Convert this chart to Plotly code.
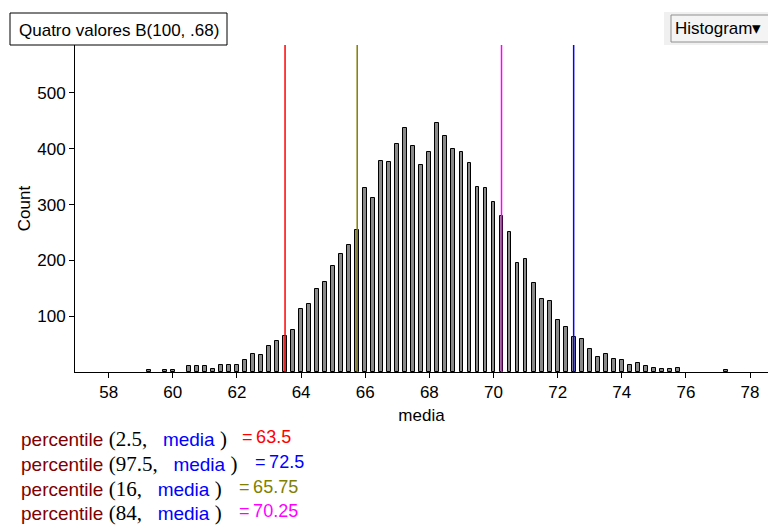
import plotly.graph_objects as go

# ---- data ----
media_vals = [59.25, 59.75, 60.0, 60.5, 60.75, 61.0, 61.25, 61.5, 61.75, 62.0,
              62.25, 62.5, 62.75, 63.0, 63.25, 63.5, 63.75, 64.0, 64.25, 64.5,
              64.75, 65.0, 65.25, 65.5, 65.75, 66.0, 66.25, 66.5, 66.75, 67.0,
              67.25, 67.5, 67.75, 68.0, 68.25, 68.5, 68.75, 69.0, 69.25, 69.5,
              69.75, 70.0, 70.25, 70.5, 70.75, 71.0, 71.25, 71.5, 71.75, 72.0,
              72.25, 72.5, 72.75, 73.0, 73.25, 73.5, 73.75, 74.0, 74.25, 74.5,
              74.75, 75.0, 75.25, 75.5, 75.75, 77.25]
counts = [4, 4, 4, 10, 10, 10, 6, 12, 12, 12,
          21, 33, 30, 47, 56, 65, 76, 113, 121, 148,
          162, 190, 211, 228, 254, 329, 311, 379, 377, 409,
          437, 405, 371, 394, 446, 423, 400, 394, 374, 331,
          329, 305, 280, 251, 196, 202, 159, 130, 128, 93,
          81, 62, 59, 41, 27, 33, 24, 21, 13, 16,
          10, 7, 5, 5, 7, 4]

pct_levels = ["2.5", "97.5", "16", "84"]
pct_values = [63.5, 72.5, 65.75, 70.25]
pct_colors = ["#ff0000", "#0000ff", "#808000", "#ff00ff"]

x_ticks = [58, 60, 62, 64, 66, 68, 70, 72, 74, 76, 78]
y_ticks = [100, 200, 300, 400, 500]

# ---- layout geometry (pixels) ----
W, H = 768, 527
L, R, T, B = 75, 0, 45, 155
PW, PH = W - L - R, H - T - B


def px(x):
    return (x - L) / PW


def py(y):
    return (H - B - y) / PH


SANS = "Liberation Sans, Arial, sans-serif"
SERIF = "Liberation Serif, Times New Roman, serif"
NB = "\u00a0"

fig = go.Figure()
fig.add_trace(go.Bar(
    x=media_vals, y=counts, width=0.12,
    marker=dict(color="#8a8a8a", line=dict(color="black", width=1)),
    showlegend=False, hoverinfo="x+y",
))

for v, c in zip(pct_values, pct_colors):
    fig.add_shape(type="line", xref="x", yref="paper", x0=v, x1=v, y0=0, y1=1,
                  line=dict(color=c, width=1.5))

# title box
fig.add_shape(type="rect", xref="paper", yref="paper",
              x0=px(10), x1=px(227), y0=py(45), y1=py(13),
              line=dict(color="black", width=1), fillcolor="white")
fig.add_annotation(xref="paper", yref="paper", x=px(118.5), y=py(30),
                   xanchor="center", yanchor="middle",
                   text="Quatro valores B(100, .68)", showarrow=False,
                   font=dict(family=SANS, size=17, color="black"))

# Histogram dropdown-like box
fig.add_shape(type="rect", xref="paper", yref="paper",
              x0=px(664), x1=px(768), y0=py(45), y1=py(12),
              line=dict(width=0), fillcolor="#f0f0f0")
fig.add_shape(type="rect", xref="paper", yref="paper",
              x0=px(671), x1=px(770), y0=py(42), y1=py(15),
              line=dict(color="#909090", width=1), fillcolor="#f4f4f4")
fig.add_annotation(xref="paper", yref="paper", x=px(673), y=py(29),
                   xanchor="left", yanchor="middle",
                   text="Histogram\u25be", showarrow=False,
                   font=dict(family=SANS, size=17, color="black"))

# percentile lines
line_y = [439, 464, 489, 513]
val_x = [240, 253, 237, 237]
for lvl, v, c, ly, vx in zip(pct_levels, pct_values, pct_colors, line_y, val_x):
    txt = ('<span style="color:#800000">percentile</span>'
           '<span style="font-family:' + SERIF + ';font-size:21px;color:#000"> (' + lvl + ',' + NB + NB + NB + '</span>'
           '<span style="color:#0000ff">media</span>'
           '<span style="font-family:' + SERIF + ';font-size:21px;color:#000">' + NB + ')</span>')
    fig.add_annotation(xref="paper", yref="paper", x=px(19), y=py(ly), xanchor="left",
                       yanchor="middle", text=txt, showarrow=False,
                       font=dict(family=SANS, size=19, color="black"))
    vs = ("%g" % v)
    fig.add_annotation(xref="paper", yref="paper", x=px(vx), y=py(ly - 2), xanchor="left",
                       yanchor="middle", text="=\u2009" + vs, showarrow=False,
                       font=dict(family=SANS, size=18, color=c))

fig.update_layout(
    width=W, height=H,
    margin=dict(l=L, r=R, t=T, b=B, pad=0),
    paper_bgcolor="white", plot_bgcolor="white",
    bargap=0,
    font=dict(family=SANS, size=17, color="black"),
    xaxis=dict(range=[56.95, 78.56], tickvals=x_ticks, ticks="outside", ticklen=5,
               tickcolor="black", showline=True, linecolor="black", linewidth=1,
               showgrid=False, zeroline=False,
               title=dict(text="media", font=dict(family=SANS, size=17), standoff=7),
               tickfont=dict(family=SANS, size=17)),
    yaxis=dict(range=[0, 586], tickvals=y_ticks, ticks="outside", ticklen=5,
               tickcolor="black", showline=True, linecolor="black", linewidth=1,
               showgrid=False, zeroline=False, ticklabelstandoff=0,
               title=dict(text="Count", font=dict(family=SANS, size=17), standoff=2),
               tickfont=dict(family=SANS, size=17)),
)

fig.write_html("out.html")
